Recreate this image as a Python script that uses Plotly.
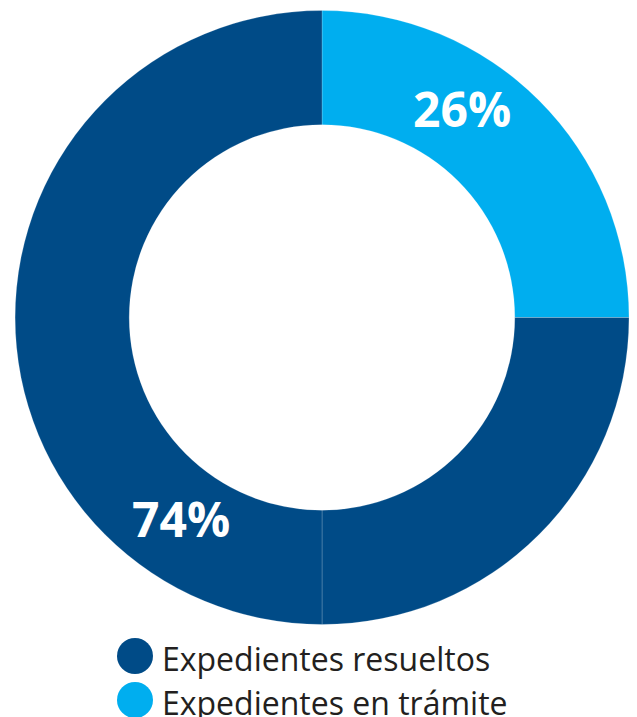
import plotly.graph_objects as go

# slices as drawn (light quarter, then the dark part split at 6 o'clock)
slice_names = ["Expedientes en trámite", "Expedientes resueltos (a)", "Expedientes resueltos (b)"]
slice_values = [25, 25, 50]
slice_colors = ["#00aeef", "#004b87", "#004b87"]

# printed labels
pct_labels = ["26%", "74%"]
legend_names = ["Expedientes resueltos", "Expedientes en trámite"]
legend_colors = ["#004b87", "#00aeef"]

# page body has an 8px margin, so the figure is a bit smaller than the window
OFF = 8
W, H = 637 - OFF, 717 - OFF


def px(x):
    return (x - OFF) / W


def py(y):
    return 1 - (y - OFF) / H


fig = go.Figure()
fig.add_trace(
    go.Pie(
        labels=slice_names,
        values=slice_values,
        hole=0.628,
        sort=False,
        direction="clockwise",
        rotation=0,
        marker={"colors": slice_colors, "line": {"color": "rgba(255,255,255,0.25)", "width": 0.8}},
        textinfo="none",
        hoverinfo="label+percent",
        showlegend=False,
        domain={"x": [px(15), px(629)], "y": [py(625), py(10)]},
    )
)

annotations = [
    {"text": pct_labels[0], "x": px(462), "y": py(108)},
    {"text": pct_labels[1], "x": px(181), "y": py(518)},
]
for a in annotations:
    a.update(
        xref="paper", yref="paper", xanchor="center", yanchor="middle", showarrow=False,
        font={"family": "Open Sans", "size": 48, "color": "white", "weight": "bold"},
    )

shapes = []
for i, (name, color) in enumerate(zip(legend_names, legend_colors)):
    cy = 656 + i * 44
    shapes.append(
        {"type": "circle", "xref": "paper", "yref": "paper", "fillcolor": color, "line": {"width": 0},
         "x0": px(117), "x1": px(153), "y0": py(cy + 18), "y1": py(cy - 18)}
    )
    annotations.append(
        {"text": name, "xref": "paper", "yref": "paper", "x": px(160), "y": py(cy + 2),
         "xanchor": "left", "yanchor": "middle", "showarrow": False,
         "font": {"family": "Open Sans", "size": 32, "color": "#231f20"}}
    )

fig.update_layout(
    width=W,
    height=H,
    margin={"l": 0, "r": 0, "t": 0, "b": 0},
    paper_bgcolor="white",
    plot_bgcolor="white",
    annotations=annotations,
    shapes=shapes,
)

fig.write_html("out.html")
